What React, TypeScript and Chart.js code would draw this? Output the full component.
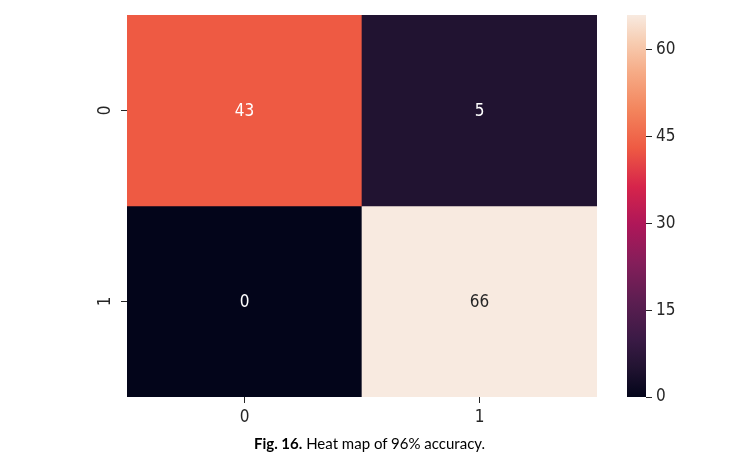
import React, { useEffect, useRef } from 'react';
import { Chart, registerables } from 'chart.js';

Chart.register(...registerables);

// ---- data ----
const xLabels = ['0', '1'];
const yLabels = ['0', '1'];
const row0Values = [43, 5];
const row1Values = [0, 66];
const colorbarTicks = [0, 15, 30, 45, 60];
const vmin = 0;
const vmax = 66;

// rocket-like colormap stops
const rocketStops: [number, string][] = [
  [0.0, '#03051A'],
  [0.076, '#211331'],
  [0.15, '#3A1A45'],
  [0.25, '#5C1E51'],
  [0.35, '#841E5A'],
  [0.45, '#AE1759'],
  [0.55, '#D6244B'],
  [0.6515, '#EE5A43'],
  [0.75, '#F3845C'],
  [0.85, '#F6AB86'],
  [0.93, '#F7CDB2'],
  [1.0, '#F8EAE0'],
];

function hexToRgb(h: string) {
  const n = parseInt(h.slice(1), 16);
  return [(n >> 16) & 255, (n >> 8) & 255, n & 255];
}

function colorFor(v: number) {
  const t = Math.max(0, Math.min(1, (v - vmin) / (vmax - vmin)));
  for (let i = 1; i < rocketStops.length; i++) {
    const [t1, c1] = rocketStops[i];
    const [t0, c0] = rocketStops[i - 1];
    if (t <= t1) {
      const f = (t - t0) / (t1 - t0);
      const a = hexToRgb(c0);
      const b = hexToRgb(c1);
      const c = a.map((x, k) => Math.round(x + (b[k] - x) * f));
      return `rgb(${c[0]},${c[1]},${c[2]})`;
    }
  }
  return rocketStops[rocketStops.length - 1][1];
}

function textColorFor(v: number) {
  const t = (v - vmin) / (vmax - vmin);
  return t > 0.8 ? '#262626' : '#FFFFFF';
}

const TICK_FONT = '"Liberation Sans Narrow", "DejaVu Sans Condensed", "DejaVu Sans", sans-serif';
const TICK_COLOR = '#262626';
const TICK_SIZE = 17;

const W_MAIN = 605;
const H = 440;
const AREA_LEFT = 127;
const AREA_TOP = 15;
const AREA_BOTTOM = 397;
const AREA_RIGHT = 597;

const CB_LEFT = 627;
const CB_W = 19;
const CB_CANVAS_W = 110;

export default function App() {
  const mainRef = useRef<HTMLCanvasElement>(null);
  const cbRef = useRef<HTMLCanvasElement>(null);

  useEffect(() => {
    const rows = [row0Values, row1Values];

    const annotate = {
      id: 'annotate',
      afterDatasetsDraw(chart: any) {
        const ctx = chart.ctx;
        ctx.save();
        ctx.font = `17px ${TICK_FONT}`;
        ctx.textAlign = 'center';
        ctx.textBaseline = 'middle';
        chart.data.datasets.forEach((ds: any, di: number) => {
          const meta = chart.getDatasetMeta(di);
          meta.data.forEach((el: any, i: number) => {
            const v = ds.values[i];
            ctx.fillStyle = textColorFor(v);
            ctx.fillText(String(v), el.x, (el.y + el.base) / 2 + 1);
          });
        });
        // rotated y labels
        const ys = chart.scales.y;
        ctx.font = `${TICK_SIZE}px ${TICK_FONT}`;
        ctx.fillStyle = TICK_COLOR;
        yLabels.forEach((lab, i) => {
          const py = ys.getPixelForValue(i + 0.5);
          ctx.save();
          ctx.translate(ys.right - 21, py);
          ctx.rotate(-Math.PI / 2);
          ctx.textAlign = 'center';
          ctx.textBaseline = 'middle';
          ctx.fillText(lab, 0, 0);
          ctx.restore();
        });
        ctx.restore();
      },
    };

    const main = new Chart(mainRef.current!, {
      type: 'bar',
      data: {
        labels: xLabels,
        datasets: rows.map((vals, r) => ({
          data: vals.map(() => [r, r + 1]),
          values: vals,
          backgroundColor: vals.map(colorFor),
          borderWidth: 0,
          barPercentage: 1,
          categoryPercentage: 1,
          grouped: false,
        })) as any,
      },
      options: {
        responsive: false,
        animation: false,
        layout: { padding: { top: AREA_TOP, right: W_MAIN - AREA_RIGHT, left: 0, bottom: 0 } },
        plugins: { legend: { display: false }, tooltip: { enabled: false } },
        scales: {
          x: {
            type: 'category',
            offset: true,
            border: { display: false },
            grid: {
              offset: false,
              drawOnChartArea: false,
              drawTicks: true,
              tickLength: 6,
              tickColor: TICK_COLOR,
            },
            ticks: {
              color: TICK_COLOR,
              font: { family: TICK_FONT, size: TICK_SIZE },
              padding: 4,
            },
            afterFit(scale: any) {
              scale.height = H - AREA_BOTTOM;
            },
          },
          y: {
            type: 'linear',
            min: 0,
            max: 2,
            reverse: true,
            border: { display: false },
            afterBuildTicks(scale: any) {
              scale.ticks = yLabels.map((_, i) => ({ value: i + 0.5 }));
            },
            grid: {
              drawOnChartArea: false,
              drawTicks: true,
              tickLength: 6,
              tickColor: TICK_COLOR,
            },
            ticks: { display: false },
            afterFit(scale: any) {
              scale.width = AREA_LEFT;
            },
          },
        },
      } as any,
      plugins: [annotate],
    });

    const gradientPlugin = {
      id: 'gradientBar',
      beforeDatasetsDraw(chart: any) {
        const { ctx, chartArea } = chart;
        const g = ctx.createLinearGradient(0, chartArea.bottom, 0, chartArea.top);
        rocketStops.forEach(([t, c]) => g.addColorStop(t, c));
        ctx.save();
        ctx.fillStyle = g;
        ctx.fillRect(chartArea.left, chartArea.top, chartArea.right - chartArea.left, chartArea.bottom - chartArea.top);
        ctx.restore();
      },
    };

    const cb = new Chart(cbRef.current!, {
      type: 'scatter',
      data: { datasets: [{ data: [] }] },
      options: {
        responsive: false,
        animation: false,
        layout: { padding: { top: AREA_TOP, bottom: H - AREA_BOTTOM, left: 0, right: 0 } },
        plugins: { legend: { display: false }, tooltip: { enabled: false } },
        scales: {
          x: { display: false, min: 0, max: 1 },
          y: {
            position: 'right',
            min: vmin,
            max: vmax,
            border: { display: false },
            afterBuildTicks(scale: any) {
              scale.ticks = colorbarTicks.map((v) => ({ value: v }));
            },
            grid: {
              drawOnChartArea: false,
              drawTicks: true,
              tickLength: 6,
              tickColor: TICK_COLOR,
            },
            ticks: {
              color: TICK_COLOR,
              font: { family: TICK_FONT, size: TICK_SIZE },
              padding: 4,
            },
            afterFit(scale: any) {
              scale.width = CB_CANVAS_W - CB_W;
            },
          },
        },
      } as any,
      plugins: [gradientPlugin],
    });

    return () => {
      main.destroy();
      cb.destroy();
    };
  }, []);

  return (
    <div style={{ position: 'fixed', left: 0, top: 0, width: 749, height: 466, background: '#fff', overflow: 'hidden' }}>
      <canvas ref={mainRef} width={W_MAIN} height={H} style={{ position: 'absolute', left: 0, top: 0, width: W_MAIN, height: H }} />
      <canvas ref={cbRef} width={CB_CANVAS_W} height={H} style={{ position: 'absolute', left: CB_LEFT, top: 0, width: CB_CANVAS_W, height: H }} />
      <div
        style={{
          position: 'absolute',
          left: 0,
          width: 739,
          top: 436,
          textAlign: 'center',
          fontFamily: 'Lato, "Open Sans", sans-serif',
          fontSize: 15,
          color: '#000',
          lineHeight: '15px',
          whiteSpace: 'nowrap',
        }}
      >
        <b>Fig. 16.</b> Heat map of 96% accuracy.
      </div>
    </div>
  );
}
